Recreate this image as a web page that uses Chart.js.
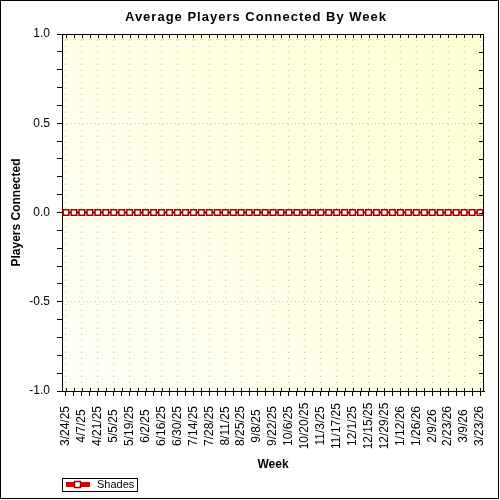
<!DOCTYPE html>
<html>
<head>
<meta charset="utf-8">
<script src="https://cdn.jsdelivr.net/npm/chart.js@4.4.1/dist/chart.umd.min.js"></script>
<style>
  body { margin: 0; background: #fff; }
  canvas { display: block; }
</style>
</head>
<body>
<canvas id="playersChart" width="500" height="500"></canvas>
<script>
const weekLabels = [
    '3/24/25', '3/31/25', '4/7/25', '4/14/25', '4/21/25', '4/28/25', '5/5/25', '5/12/25',
    '5/19/25', '5/26/25', '6/2/25', '6/9/25', '6/16/25', '6/23/25', '6/30/25', '7/7/25',
    '7/14/25', '7/21/25', '7/28/25', '8/4/25', '8/11/25', '8/18/25', '8/25/25', '9/1/25',
    '9/8/25', '9/15/25', '9/22/25', '9/29/25', '10/6/25', '10/13/25', '10/20/25', '10/27/25',
    '11/3/25', '11/10/25', '11/17/25', '11/24/25', '12/1/25', '12/8/25', '12/15/25', '12/22/25',
    '12/29/25', '1/5/26', '1/12/26', '1/19/26', '1/26/26', '2/2/26', '2/9/26', '2/16/26',
    '2/23/26', '3/2/26', '3/9/26', '3/16/26', '3/23/26'
];

const shadesValues = [
    0, 0, 0, 0, 0, 0, 0, 0, 0, 0, 0, 0, 0, 0, 0, 0, 0, 0, 0, 0, 0, 0, 0, 0, 0, 0, 0,
    0, 0, 0, 0, 0, 0, 0, 0, 0, 0, 0, 0, 0, 0, 0, 0, 0, 0, 0, 0, 0, 0, 0, 0, 0, 0
];

const yMin = -1.0;
const yMax = 1.0;
const yMinorStep = 0.1;
const yMajorStep = 0.5;

const chartTitle = 'Average Players Connected By Week';
const seriesName = 'Shades';

const isMajor = v => Math.abs(v / yMajorStep - Math.round(v / yMajorStep)) < 1e-6;

// background, outer frame, title, top/right frame ticks, rotated week labels, legend
const decorations = {
    id: 'decorations',
    beforeDraw(chart) {
        const {ctx, chartArea: a} = chart;
        ctx.save();
        ctx.fillStyle = '#fff';
        ctx.fillRect(0, 0, chart.width, chart.height);
        const g = ctx.createLinearGradient(a.left, a.bottom, a.right, a.top);
        g.addColorStop(0, '#fffff6');
        g.addColorStop(1, '#ffffd2');
        ctx.fillStyle = g;
        ctx.fillRect(a.left, a.top, a.right - a.left, a.bottom - a.top);
        ctx.restore();
    },
    afterDraw(chart) {
        const {ctx, chartArea: a} = chart;
        const x = chart.scales.x, y = chart.scales.y;
        ctx.save();

        ctx.strokeStyle = '#000';
        ctx.lineWidth = 1;
        ctx.strokeRect(0.5, 0.5, 498, 498);

        ctx.fillStyle = '#000';
        ctx.font = 'bold 13px "Liberation Sans", Arial, sans-serif';
        ctx.letterSpacing = '1px';
        ctx.textAlign = 'center';
        ctx.textBaseline = 'middle';
        ctx.fillText(chartTitle, 256, 17);
        ctx.letterSpacing = '0px';

        // top and right borders with inward ticks
        ctx.beginPath();
        ctx.moveTo(a.left, a.top + 0.5);
        ctx.lineTo(a.right, a.top + 0.5);
        ctx.moveTo(a.right - 0.5, a.top);
        ctx.lineTo(a.right - 0.5, a.bottom);
        x.ticks.forEach((t, i) => {
            const px = Math.round(x.getPixelForTick(i)) + 0.5;
            ctx.moveTo(px, a.top);
            ctx.lineTo(px, a.top + 4);
            ctx.moveTo(px, a.bottom);
            ctx.lineTo(px, a.bottom - 3);
        });
        y.ticks.forEach((t, i) => {
            const py = Math.round(y.getPixelForTick(i)) + 0.5;
            ctx.moveTo(a.right, py);
            ctx.lineTo(a.right - 5, py);
        });
        ctx.stroke();

        // week labels, every other week, rotated and centred
        ctx.font = '12px "Liberation Sans", Arial, sans-serif';
        weekLabels.forEach((lab, i) => {
            if (i % 2 !== 0) return;
            ctx.save();
            ctx.translate(x.getPixelForValue(i), 426);
            ctx.rotate(-Math.PI / 2);
            ctx.textAlign = 'center';
            ctx.textBaseline = 'middle';
            ctx.fillText(lab, 0, 0);
            ctx.restore();
        });

        // legend
        ctx.strokeStyle = '#000';
        ctx.strokeRect(62.5, 478.5, 75, 13);
        ctx.fillStyle = '#e00000';
        ctx.fillRect(66, 482, 24, 5);
        ctx.fillStyle = '#fff';
        ctx.strokeStyle = '#a00000';
        ctx.lineWidth = 1.5;
        ctx.fillRect(74.5, 481.5, 6, 6);
        ctx.strokeRect(74.5, 481.5, 6, 6);
        ctx.fillStyle = '#000';
        ctx.font = '11px "Liberation Sans", Arial, sans-serif';
        ctx.textAlign = 'left';
        ctx.textBaseline = 'middle';
        ctx.fillText(seriesName, 97, 485);

        ctx.restore();
    }
};

new Chart(document.getElementById('playersChart'), {
    type: 'line',
    data: {
        labels: weekLabels,
        datasets: [{
            label: seriesName,
            data: shadesValues,
            borderColor: '#a00000',
            borderWidth: 2,
            tension: 0,
            pointStyle: 'rect',
            pointRadius: 4,
            pointBorderWidth: 1.5,
            pointBackgroundColor: '#fff',
            pointBorderColor: '#a00000'
        }]
    },
    options: {
        responsive: false,
        animation: false,
        devicePixelRatio: 1,
        layout: { padding: { top: 34, right: 16, bottom: 0, left: 0 } },
        plugins: {
            legend: { display: false },
            title: { display: false },
            tooltip: { enabled: false }
        },
        scales: {
            x: {
                type: 'category',
                offset: true,
                afterFit: s => { s.height = 109; },
                grid: {
                    offset: false,
                    color: ctx => ctx.index % 2 === 0 ? '#c4c4c4' : 'rgba(0,0,0,0)',
                    lineWidth: 1,
                    drawTicks: true,
                    tickLength: 5,
                    tickColor: '#000',
                    tickWidth: 1
                },
                border: { display: true, color: '#000', width: 1, dash: [1, 5] },
                ticks: { display: false, autoSkip: false },
                title: {
                    display: true,
                    text: 'Week',
                    color: '#000',
                    font: { family: '"Liberation Sans", Arial, sans-serif', size: 12, weight: 'bold' },
                    padding: { top: 0, bottom: 28 }
                }
            },
            y: {
                min: yMin,
                max: yMax,
                afterFit: s => { s.width = 62; },
                grid: {
                    color: ctx => ctx.tick && isMajor(ctx.tick.value) ? '#c4c4c4' : 'rgba(0,0,0,0)',
                    lineWidth: 1,
                    drawTicks: true,
                    tickLength: 5,
                    tickColor: '#000',
                    tickWidth: 1
                },
                border: { display: true, color: '#000', width: 1, dash: [1, 3] },
                ticks: {
                    stepSize: yMinorStep,
                    autoSkip: false,
                    padding: 7,
                    color: '#000',
                    font: { family: '"Liberation Sans", Arial, sans-serif', size: 12 },
                    callback: v => isMajor(v) ? v.toFixed(1) : ''
                },
                title: {
                    display: true,
                    text: 'Players Connected',
                    color: '#000',
                    font: { family: '"Liberation Sans", Arial, sans-serif', size: 12, weight: 'bold' },
                    padding: { top: 9, bottom: 0 }
                }
            }
        }
    },
    plugins: [decorations]
});
</script>
</body>
</html>
